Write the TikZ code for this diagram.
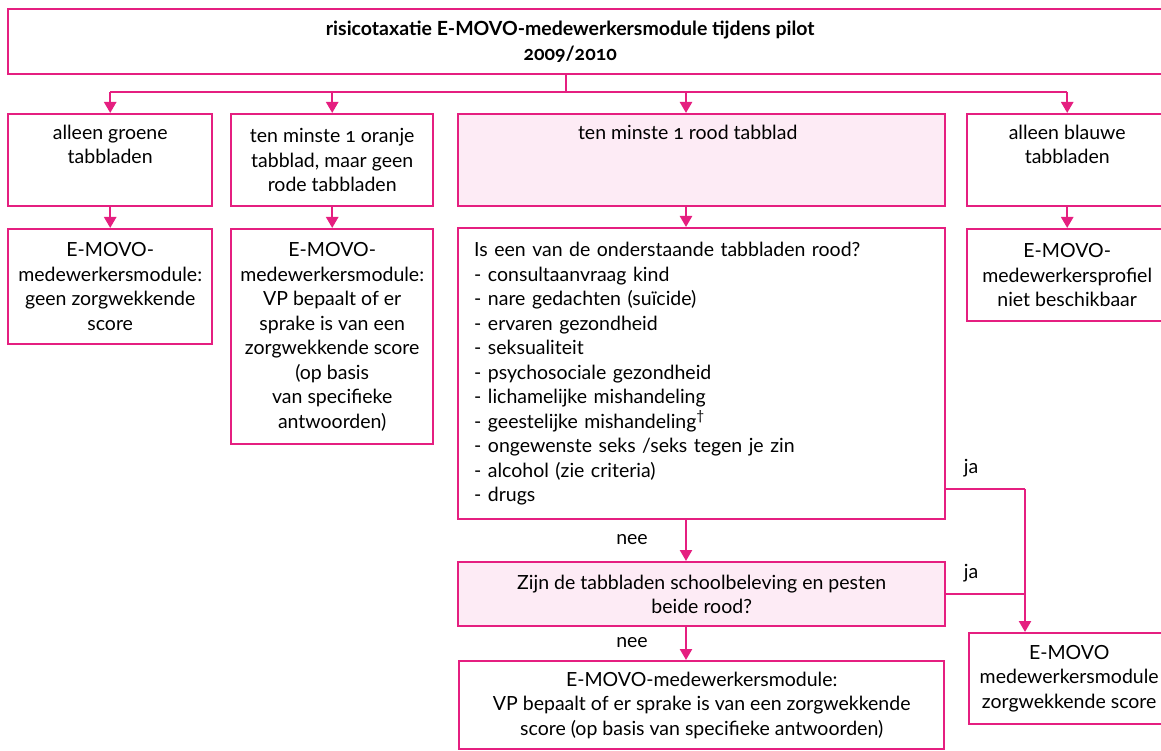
\documentclass[tikz,border=0pt]{standalone}
\usepackage{fontspec}
\setmainfont{Lato}[Numbers=OldStyle]
\usetikzlibrary{arrows.meta,positioning}
\definecolor{movoroze}{RGB}{229,31,128}
\definecolor{movofill}{RGB}{253,235,245}
\tikzset{
  txt/.style={font=\fontsize{19.5pt}{24.5pt}\selectfont},
  blok/.style={txt, draw=movoroze, line width=2.4pt, align=center, inner sep=3pt, anchor=north west},
  rozeblok/.style={blok, fill=movofill},
  lijn/.style={draw=movoroze, line width=2.4pt},
  pijl/.style={lijn, -{Triangle[width=12pt,length=11pt]}},
}

\begin{document}
\begin{tikzpicture}[x=1pt,y=-1pt]
\useasboundingbox (0,0) rectangle (1161,751);
\clip (0,0) rectangle (1161,751);

\node[blok, minimum width=1168pt, minimum height=65pt,
  label={[align=center, xshift=-22pt, font=\fontsize{19.5pt}{24.5pt}\selectfont\bfseries]center:{risicotaxatie E-MOVO-medewerkersmodule tijdens pilot\\2009/2010}}] (tax) at (7,8) {};

% eerste rij
\node[blok, minimum width=204pt, minimum height=92pt] (groen) at (7,113) {alleen groene\\tabbladen\\\strut};
\node[blok, minimum width=202pt, minimum height=92pt] (oranje) at (230,113) {ten minste 1 oranje\\tabblad, maar geen\\rode tabbladen};
\node[rozeblok, minimum width=487pt, minimum height=92pt] (rood) at (457,113) {\hspace*{-28pt}ten minste 1 rood tabblad\\\strut\\\strut};
\node[blok, minimum width=200pt, minimum height=92pt] (blauw) at (966,113) {alleen blauwe\\tabbladen\\\strut};

% tweede rij
\node[blok, minimum width=204pt, minimum height=115pt] (geen) at (7,228) {E-MOVO-\\medewerkersmodule:\\geen zorgwekkende\\score};
\node[blok, minimum width=202pt, minimum height=215pt] (vp) at (230,228) {E-MOVO-\\medewerkersmodule:\\VP bepaalt of er\\sprake is van een\\zorgwekkende score\\(op basis\\van specifieke\\antwoorden)};
\node[blok, align=left, text width=455pt, inner xsep=16pt, minimum height=291pt] (vraag) at (457,227) {Is een van de onderstaande tabbladen rood?\\
- consultaanvraag kind\\
- nare gedachten (suïcide)\\
- ervaren gezondheid\\
- seksualiteit\\
- psychosociale gezondheid\\
- lichamelijke mishandeling\\
- geestelijke mishandeling\textsuperscript{†}\\
- ongewenste seks /seks tegen je zin\\
- alcohol (zie criteria)\\
- drugs};
\node[blok, minimum width=200pt, minimum height=92pt] (profiel) at (966,228) {E-MOVO-\\medewerkersprofiel\\niet beschikbaar};

% onderste deel
\node[rozeblok, minimum width=487pt, minimum height=64pt] (school) at (457,561) {Zijn de tabbladen schoolbeleving en pesten\\beide rood?};
\node[blok, minimum width=485pt, minimum height=88pt] (specifiek) at (458,660) {E-MOVO-medewerkersmodule:\\VP bepaalt of er sprake is van een zorgwekkende\\score (op basis van specifieke antwoorden)};
\node[blok, minimum width=200pt, minimum height=91pt] (zorg) at (968,632) {E-MOVO\\medewerkersmodule\\zorgwekkende score};

\node[txt] (nee1) at (632,540) {nee};
\node[txt] (nee2) at (632,643) {nee};
\node[txt] (ja1) at (971,468) {ja};
\node[txt] (ja2) at (971,573) {ja};

\coordinate (hub) at (566,92);
\coordinate (as) at (686,0);
\coordinate (knik) at (1025,489);

\draw[lijn] (tax.south -| hub) -- (hub);
\draw[lijn] (hub -| groen.north) -- (hub -| blauw.north);
\foreach \n in {groen,oranje,blauw}
  \draw[pijl] (hub -| \n.north) -- (\n.north);
\draw[pijl] (hub -| as) -- (as |- rood.north);
\foreach \a/\b in {groen/geen,oranje/vp,blauw/profiel}
  \draw[pijl] (\a.south) -- (\b.north);
\draw[pijl] (as |- rood.south) -- (as |- vraag.north);
\draw[pijl] (as |- vraag.south) -- (as |- school.north);
\draw[pijl] (as |- school.south) -- (as |- specifiek.north);
\draw[lijn] (knik -| vraag.east) -- (knik);
\draw[pijl] (knik) -- (knik |- zorg.north);
\draw[lijn] (school.east) -- (school.east -| knik);
\end{tikzpicture}
\end{document}
